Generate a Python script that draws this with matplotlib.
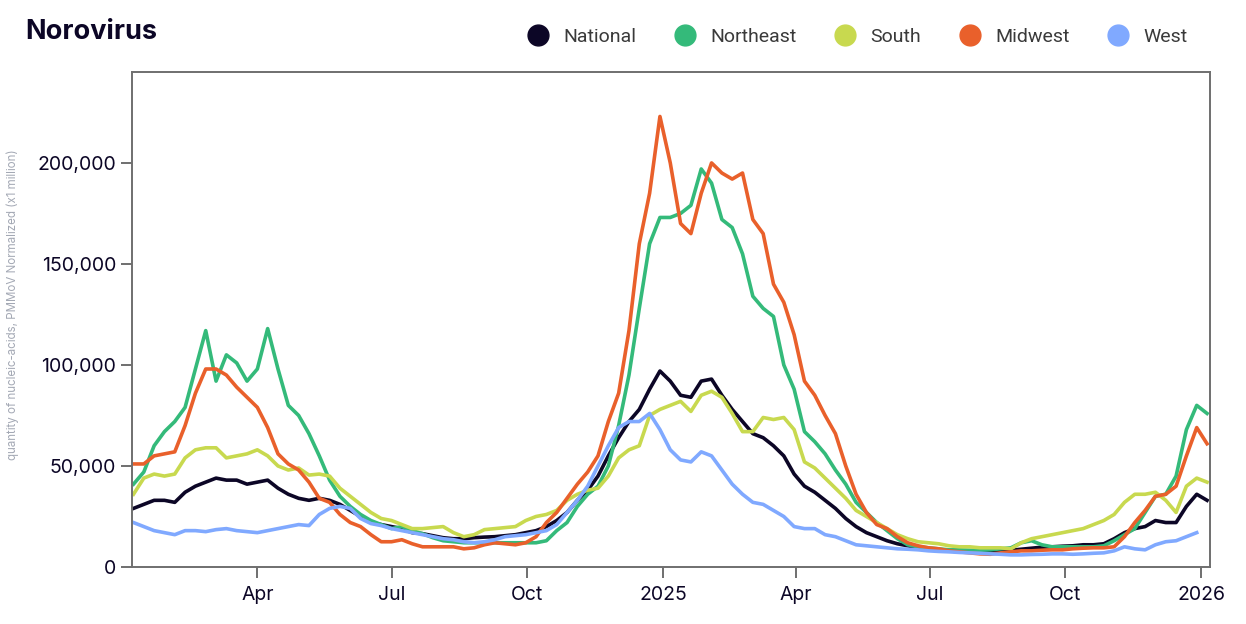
import numpy as np
import pandas as pd
import matplotlib
matplotlib.use("Agg")
import matplotlib.pyplot as plt
import matplotlib.dates as mdates
from matplotlib.lines import Line2D

# weekly readings (thousands), starting 2024-01-08
start_date = "2024-01-08"

national = [29, 31, 33, 33, 32, 37, 40, 42, 44, 43, 43, 41, 42, 43, 39, 36, 34, 33, 34, 33,
            31, 28, 25, 22, 21, 20, 19, 17, 16.5, 15.5, 14.5, 14, 14, 14.5, 14.8, 15, 15.5, 16, 17, 18,
            20, 23, 27, 33, 38, 45, 55, 64, 72, 78, 88, 97, 92, 85, 84, 92, 93, 85, 78, 72,
            66, 64, 60, 55, 46, 40, 37, 33, 29, 24, 20, 17, 15, 13, 11.5, 10.5, 9.5, 9, 8.5, 8,
            8, 7.8, 7.8, 8, 8, 8.3, 8.8, 9.3, 9.8, 10, 10.3, 10.5, 11, 11, 11.5, 14, 17, 19, 20, 23,
            22, 22, 30, 36, 33]
northeast = [41, 47, 60, 67, 72, 79, 98, 117, 92, 105, 101, 92, 98, 118, 98, 80, 75, 66, 55, 43,
             35, 30, 26, 23, 21, 19, 20, 18, 16.5, 14.5, 13, 12.5, 12, 12, 12, 12, 12, 12, 12, 12,
             13, 18, 22, 30, 36, 40, 50, 70, 95, 128, 160, 173, 173, 175, 179, 197, 190, 172, 168, 155,
             134, 128, 124, 100, 88, 67, 62, 56, 48, 41, 32, 27, 22, 18, 14, 11, 10, 9.5, 9, 8.5,
             8.5, 8.3, 8.3, 8.5, 9, 9.5, 12, 13, 11, 10, 10, 10, 10, 10, 10.5, 13, 16, 19, 27, 35,
             36, 45, 68, 80, 76]
south = [36, 44, 46, 45, 46, 54, 58, 59, 59, 54, 55, 56, 58, 55, 50, 48, 49, 45.5, 46, 45,
         39, 35, 31, 27, 24, 23, 21, 19, 19, 19.5, 20, 17, 15, 16, 18.5, 19, 19.5, 20, 23, 25,
         26, 28, 33, 36, 38, 39, 45, 54, 58, 60, 75, 78, 80, 82, 77, 85, 87, 84, 76, 67,
         67, 74, 73, 74, 68, 52, 49, 44, 39, 34, 28, 25, 22, 19, 16, 14, 12.5, 12, 11.5, 10.5,
         10, 10, 9.5, 9.5, 9.5, 9, 12, 14, 15, 16, 17, 18, 19, 21, 23, 26, 32, 36, 36, 37,
         33, 27, 40, 44, 42]
midwest = [51, 51, 55, 56, 57, 70, 86, 98, 98, 95, 89, 84, 79, 69, 56, 51, 48, 42, 34, 32,
           26, 22, 20, 16, 12.5, 12.5, 13.5, 11.5, 10, 10, 10, 10, 9, 9.5, 11, 12, 11.5, 11, 12, 15,
           22, 27, 34, 41, 47, 55, 72, 86, 117, 160, 185, 223, 200, 170, 165, 185, 200, 195, 192, 195,
           172, 165, 140, 131, 115, 92, 85, 75, 66, 50, 36, 27, 21, 19, 15, 12, 10.5, 9.5, 9, 8,
           7.5, 7, 6.5, 6.3, 7, 7.5, 8, 8, 8.3, 8.5, 8.5, 9, 9.3, 9.5, 9.5, 10, 15, 22, 28, 35,
           36, 40, 55, 69, 61]
west = [22, 20, 18, 17, 16, 18, 18, 17.5, 18.5, 19, 18, 17.5, 17, 18, 19, 20, 21, 20.5, 26, 29,
        30, 29, 24, 21.5, 20.5, 19, 18, 17, 16, 15, 14, 13.5, 12.5, 12, 12.5, 13.5, 15, 15.5, 16, 17,
        18, 21, 27, 33, 40, 50, 60, 69, 72, 72, 76, 68, 58, 53, 52, 57, 55, 48, 41, 36,
        32, 31, 28, 25, 20, 19, 19, 16, 15, 13, 11, 10.5, 10, 9.5, 9, 8.8, 8.5, 8, 7.7, 7.5,
        7.2, 7, 6.8, 6.5, 6.3, 6, 6, 6.2, 6.3, 6.5, 6.5, 6.3, 6.5, 6.8, 7, 8, 10, 9, 8.5, 11,
        12.5, 13, 15, 17, np.nan]

series_names = ["National", "Northeast", "South", "Midwest", "West"]
series_colors = ["#0c0626", "#34ba7a", "#c8d94f", "#e9602b", "#80a9ff"]
all_series = [national, northeast, south, midwest, west]

dates = pd.date_range(start_date, periods=len(national), freq="7D")

fig = plt.figure(figsize=(12.46, 6.24), dpi=100)
ax = fig.add_axes([132 / 1246, 1 - 567 / 624, (1210 - 132) / 1246, (567 - 72) / 624])

for name, vals, col in zip(series_names, all_series, series_colors):
    ax.plot(dates, np.array(vals) * 1000, color=col, lw=2.6, label=name,
            solid_joinstyle="round")

ax.set_xlim(pd.Timestamp("2024-01-07"), pd.Timestamp("2026-01-07"))
ax.set_ylim(0, 245000)
ax.set_yticks([0, 50000, 100000, 150000, 200000])
ax.yaxis.set_major_formatter(matplotlib.ticker.FuncFormatter(lambda v, p: f"{int(v):,}"))

ax.xaxis.set_major_locator(mdates.MonthLocator(bymonth=[1, 4, 7, 10]))
ax.xaxis.set_major_formatter(matplotlib.ticker.FuncFormatter(
    lambda v, p: (mdates.num2date(v).strftime("%Y") if mdates.num2date(v).month == 1
                  else mdates.num2date(v).strftime("%b"))))

for s in ax.spines.values():
    s.set_color("#6f6f6f")
    s.set_linewidth(1.4)
ax.tick_params(colors="#6f6f6f", length=8, width=1.4, labelsize=14, labelcolor="#0c0626")
ax.tick_params(axis="x", pad=6)
for lab in ax.get_xticklabels() + ax.get_yticklabels():
    lab.set_fontfamily("Inter")

fig.text(25 / 1246, 1 - 32 / 624, "Norovirus", fontsize=19.5, fontweight="bold",
         color="#0c0626", family="Inter", va="center", ha="left")
fig.text(13 / 1246, 1 - 305 / 624, "quantity of nucleic-acids, PMMoV Normalized (x1 million)",
         rotation=90, fontsize=8.3, color="#a3a8b4", family="Inter", va="center", ha="center")

handles = [Line2D([], [], marker="o", ls="", markersize=15, color=c) for c in series_colors]
fig.legend(handles, series_names, loc="center right", bbox_to_anchor=(1205 / 1246, 1 - 37 / 624),
           ncol=5, frameon=False, handletextpad=0.3, columnspacing=1.5,
           prop={"family": "Roboto", "size": 14}, labelcolor="#3a3a3a")

fig.savefig("out.png", dpi=100)
